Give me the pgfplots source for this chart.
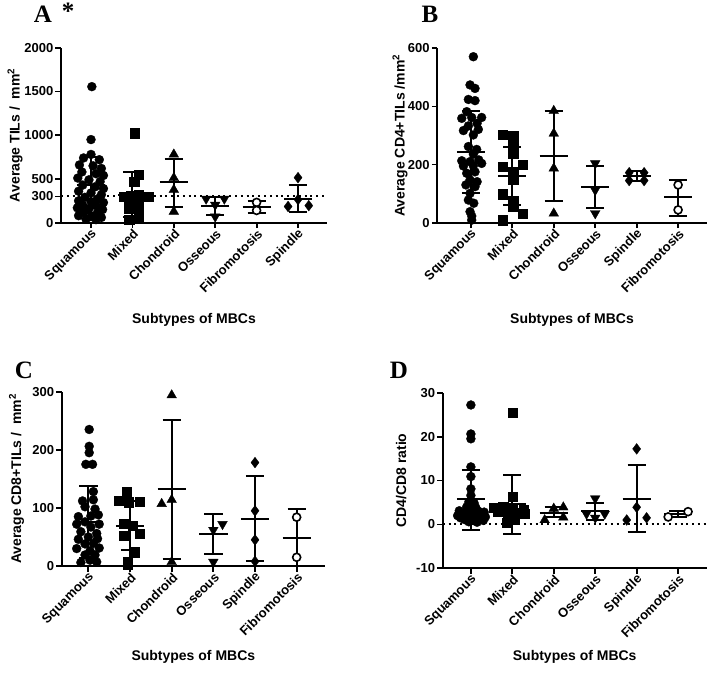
\documentclass[border=0pt]{standalone}
\usepackage{pgfplots}
\pgfplotsset{compat=1.18}
\usepackage{fontspec}
\setmainfont{Liberation Sans}
\newfontfamily\tnr{Liberation Serif}

\pgfplotsset{
  panel/.style={
    scale only axis, axis lines=left, axis line style={-, line width=1.8pt, black},
    every tick/.style={black, line width=1.8pt}, major tick length=5.5pt, tick align=outside,
    xtick={0,1,2,3,4,5}, clip=false, anchor=south west,
    unbounded coords=jump,
    xticklabel style={rotate=45, anchor=east, font=\bfseries\fontsize{13}{13}\selectfont, inner sep=1pt, yshift=-5pt, xshift=1pt},
    yticklabel style={font=\bfseries\fontsize{13}{13}\selectfont, inner sep=2pt},
    ylabel style={font=\bfseries\fontsize{14}{14}\selectfont, anchor=center},
    xlabel style={font=\bfseries\fontsize{14}{14}\selectfont, anchor=center},
    xlabel={Subtypes of MBCs},
  },
  gcirc/.style={only marks, mark=*, mark size=4.5pt, mark options={fill=black, draw=black, line width=0.3pt}},
  gsq/.style={only marks, mark=square*, mark size=4.6pt, mark options={fill=black, draw=black, line width=0.3pt}},
  gtri/.style={only marks, mark=triangle*, mark size=5.6pt, mark options={fill=black, draw=black, line width=0.3pt}},
  gitri/.style={only marks, mark=triangle*, mark size=5.6pt, mark options={fill=black, draw=black, line width=0.3pt, rotate=180}},
  gdia/.style={only marks, mark=diamond*, mark size=5.4pt, mark options={fill=black, draw=black, line width=0.3pt}},
  gocirc/.style={only marks, mark=*, mark size=4pt, mark options={fill=white, draw=black, line width=1.6pt}},
  bars/.style={black, line width=2pt, mark=none, line cap=butt},
  dotl/.style={black, line width=2pt, dash pattern=on 2pt off 3.8pt},
}

\begin{document}
\begin{tikzpicture}
\useasboundingbox (0,0) rectangle (709pt,675pt);

% ---------------- Panel A ----------------
\begin{axis}[panel, at={(61pt,452.3pt)}, width=266pt, height=175pt,
  xmin=-0.725, xmax=5.7, ymin=0, ymax=2000,
  ytick={0,300,500,1000,1500,2000}, yticklabels={0,300,500,1000,1500,2000},
  xticklabels={Squamous,Mixed,Chondroid,Osseous,Fibromotosis,Spindle},
  ylabel={Average TILs /\ \ mm\textsuperscript{2}},
  ylabel style={at={(axis description cs:-0.173,0.5)}},
  xlabel style={at={(axis description cs:0.5,-0.556)}}]
\addplot[dotl] coordinates {(-0.725,300) (5.7,300)};
\addplot[gcirc] coordinates {(0.02,1555) (0,950) (0,780) (-0.18,740) (0.2,720)
 (-0.28,660) (0.05,650) (0.25,620) (-0.22,580) (0.12,560) (0.3,540)
 (-0.32,510) (-0.05,490) (0.22,470) (-0.2,430) (0.1,410) (0.3,390)
 (-0.3,360) (0,340) (0.25,320) (-0.15,290) (0.15,270)
 (-0.3,250) (0,240) (0.3,230) (-0.2,200) (0.12,195)
 (-0.33,170) (-0.05,160) (0.28,150) (-0.18,120) (0.15,110)
 (-0.3,80) (0,70) (0.25,60) (-0.12,40) (0.12,35)};
\addplot[gsq] coordinates {(1.06,1023) (1.16,550) (1.04,473) (0.8,300) (0.96,305)
 (1.16,319) (1.4,300) (0.92,223) (1.16,242) (0.92,165) (1.16,165) (0.92,31) (1.16,50)};
\addplot[gtri] coordinates {(2,781) (2,512) (2,377) (2,127)};
\addplot[gitri] coordinates {(2.78,273) (3.22,273) (3,204) (3,69)};
\addplot[gocirc] coordinates {(4,232) (4,140)};
\addplot[gdia] coordinates {(5,515) (4.76,185) (5.26,195) (5,265)};
% mean lines and SD bars
\addplot[bars] coordinates {
 (-0.34,431) (0.34,431) (nan,nan) (0,111) (0,756) (nan,nan) (-0.22,111) (0.22,111) (nan,nan) (-0.22,756) (0.22,756) (nan,nan)
 (0.66,319) (1.34,319) (nan,nan) (1,63) (1,577) (nan,nan) (0.78,63) (1.22,63) (nan,nan) (0.78,577) (1.22,577) (nan,nan)
 (1.66,461) (2.34,461) (nan,nan) (2,185) (2,731) (nan,nan) (1.78,185) (2.22,185) (nan,nan) (1.78,731) (2.22,731) (nan,nan)
 (2.66,196) (3.34,196) (nan,nan) (3,88) (3,292) (nan,nan) (2.78,88) (3.22,88) (nan,nan) (2.78,292) (3.22,292) (nan,nan)
 (3.66,181) (4.34,181) (nan,nan) (4,108) (4,250) (nan,nan) (3.78,108) (4.22,108) (nan,nan) (3.78,250) (4.22,250) (nan,nan)
 (4.66,273) (5.34,273) (nan,nan) (5,119) (5,435) (nan,nan) (4.78,119) (5.22,119) (nan,nan) (4.78,435) (5.22,435)
};
\end{axis}

% ---------------- Panel B ----------------
\begin{axis}[panel, at={(437.3pt,452.3pt)}, width=269.4pt, height=174.4pt,
  xmin=-0.81, xmax=5.69, ymin=0, ymax=600,
  ytick={0,200,400,600}, yticklabels={0,200,400,600},
  xticklabels={Squamous,Mixed,Chondroid,Osseous,Spindle,Fibromotosis},
  ylabel={Average CD4+TILs /mm\textsuperscript{2}},
  ylabel style={at={(axis description cs:-0.138,0.5)}},
  xlabel style={at={(axis description cs:0.5,-0.558)}}]
\addplot[gcirc] coordinates {(0.06,571) (-0.02,474) (0.1,462) (-0.06,424) (0.1,420)
 (-0.1,382) (-0.22,359) (0.02,362) (0.26,362) (-0.06,333) (0.15,342) (-0.18,317)
 (0.18,321) (0.06,302) (-0.06,262) (0.14,252) (0.06,236) (-0.22,213) (-0.02,210)
 (0.19,216) (-0.18,195) (0.06,196) (0.26,204) (-0.1,170) (0.1,175) (-0.02,147)
 (0.15,141) (-0.12,130) (0.1,124) (-0.02,101) (-0.06,78) (0.07,67) (-0.02,38)
 (0.02,23) (0.02,9)};
\addplot[gsq] coordinates {(0.76,304) (1.02,298) (1.02,262) (1.02,238) (1.24,200)
 (0.76,193) (1.02,175) (1.02,150) (0.76,98) (1.02,75) (1.02,55) (1.24,32) (0.76,9)};
\addplot[gtri] coordinates {(2,385) (2,307) (2,187) (2,32)};
\addplot[gitri] coordinates {(3,204) (3,112) (3,32)};
\addplot[gdia] coordinates {(3.82,172) (4.18,172) (3.82,145) (4.18,145)};
\addplot[gocirc] coordinates {(5,130) (5,44)};
\addplot[bars] coordinates {
 (-0.34,244) (0.34,244) (nan,nan) (0,103) (0,384) (nan,nan) (-0.22,103) (0.22,103) (nan,nan) (-0.22,384) (0.22,384) (nan,nan)
 (0.66,161) (1.34,161) (nan,nan) (1,61) (1,259) (nan,nan) (0.78,61) (1.22,61) (nan,nan) (0.78,259) (1.22,259) (nan,nan)
 (1.66,231) (2.34,231) (nan,nan) (2,75) (2,385) (nan,nan) (1.78,75) (2.22,75) (nan,nan) (1.78,385) (2.22,385) (nan,nan)
 (2.66,122) (3.34,122) (nan,nan) (3,52) (3,196) (nan,nan) (2.78,52) (3.22,52) (nan,nan) (2.78,196) (3.22,196) (nan,nan)
 (3.66,160) (4.34,160) (nan,nan) (4,143) (4,178) (nan,nan) (3.78,143) (4.22,143) (nan,nan) (3.78,178) (4.22,178) (nan,nan)
 (4.66,87) (5.34,87) (nan,nan) (5,24) (5,147) (nan,nan) (4.78,24) (5.22,24) (nan,nan) (4.78,147) (5.22,147)
};
\end{axis}

% ---------------- Panel C ----------------
\begin{axis}[panel, at={(61.7pt,109pt)}, width=263.3pt, height=174.3pt,
  xmin=-0.64, xmax=5.68, ymin=0, ymax=300,
  ytick={0,100,200,300}, yticklabels={0,100,200,300},
  xticklabels={Squamous,Mixed,Chondroid,Osseous,Spindle,Fibromotosis},
  ylabel={Average CD8+TILs /\ \ mm\textsuperscript{2}},
  ylabel style={at={(axis description cs:-0.171,0.5)}},
  xlabel style={at={(axis description cs:0.5,-0.522)}}]
\addplot[gcirc] coordinates {(0.02,235) (0.02,206) (0.02,195) (-0.06,175) (0.1,175)
 (0.12,128) (-0.14,112) (0.12,114) (-0.08,102) (0.16,98) (-0.24,85) (0.06,86)
 (0.24,88) (-0.08,76) (-0.28,72) (0.26,72) (0.06,67) (-0.18,59) (0.2,56) (0,50)
 (-0.24,46) (0.22,47) (-0.08,38) (0.12,39) (-0.28,30) (0.26,31) (0.04,26)
 (-0.08,19) (0.16,19) (0.04,10) (-0.18,6) (0.2,7)};
\addplot[gsq] coordinates {(0.92,127) (0.74,112) (0.96,110) (1.24,111) (0.86,73)
 (1.06,70) (0.86,52) (1.24,55) (1.1,24) (0.94,8) (0.94,2)};
\addplot[gtri] coordinates {(2,294) (1.76,107) (2,114) (2,7)};
\addplot[gitri] coordinates {(3,62) (3.22,72) (3,7)};
\addplot[gdia] coordinates {(4,178) (4,95) (4,45) (4,8)};
\addplot[gocirc] coordinates {(5,84) (5,15)};
\addplot[bars] coordinates {
 (-0.34,76) (0.34,76) (nan,nan) (0,14) (0,138) (nan,nan) (-0.22,14) (0.22,14) (nan,nan) (-0.22,138) (0.22,138) (nan,nan)
 (0.66,69) (1.34,69) (nan,nan) (1,27) (1,112) (nan,nan) (0.78,27) (1.22,27) (nan,nan) (0.78,112) (1.22,112) (nan,nan)
 (1.66,132) (2.34,132) (nan,nan) (2,12) (2,251) (nan,nan) (1.78,12) (2.22,12) (nan,nan) (1.78,251) (2.22,251) (nan,nan)
 (2.66,55) (3.34,55) (nan,nan) (3,21) (3,89) (nan,nan) (2.78,21) (3.22,21) (nan,nan) (2.78,89) (3.22,89) (nan,nan)
 (3.66,81) (4.34,81) (nan,nan) (4,8) (4,155) (nan,nan) (3.78,8) (4.22,8) (nan,nan) (3.78,155) (4.22,155) (nan,nan)
 (4.66,49) (5.34,49) (nan,nan) (5,0.5) (5,98) (nan,nan) (4.78,0.5) (5.22,0.5) (nan,nan) (4.78,98) (5.22,98)
};
\end{axis}

% ---------------- Panel D ----------------
\begin{axis}[panel, at={(442.7pt,106.7pt)}, width=264pt, height=175.6pt,
  xmin=-0.68, xmax=5.69, ymin=-10, ymax=30,
  ytick={-10,0,10,20,30}, yticklabels={-10,0,10,20,30},
  xticklabels={Squamous,Mixed,Chondroid,Osseous,Spindle,Fibromotosis},
  ylabel={CD4/CD8 ratio},
  ylabel style={at={(axis description cs:-0.157,0.5)}},
  xlabel style={at={(axis description cs:0.5,-0.505)}}]
\addplot[dotl] coordinates {(-0.68,0) (5.69,0)};
\addplot[gcirc] coordinates {(0,27.2) (0,20.6) (0,19.5) (0,13.1) (0,10.9) (0,8.1)
 (0,6.6) (-0.05,5.1) (0.08,4.8) (-0.1,4.0) (0.12,3.8) (-0.28,3.1) (-0.08,3.2)
 (0.18,3.0) (0.32,2.8) (-0.2,2.5) (0.05,2.4) (0.25,2.2) (-0.32,2.0) (-0.12,1.9)
 (0.12,1.8) (0.35,1.7) (-0.25,1.5) (0,1.4) (0.22,1.3) (-0.15,1.1) (0.08,1.0)
 (0.3,0.9) (-0.05,0.6) (0.15,0.5)};
\addplot[gsq] coordinates {(1,25.5) (1,6.3) (0.55,3.9) (0.78,4.0) (1.27,3.4)
 (0.66,2.9) (1.1,2.7) (0.9,1.7) (1.3,2.5) (0.86,0.4) (1.06,1.0) (1.0,3.8)};
\addplot[gtri] coordinates {(1.78,1.0) (2,3.6) (2.23,3.9) (2.23,1.6)};
\addplot[gitri] coordinates {(2.79,2.4) (3,5.9) (3.23,2.4) (3,1.5)};
\addplot[gdia] coordinates {(4,17.2) (4,3.9) (3.76,1.0) (4.24,1.5)};
\addplot[gocirc] coordinates {(4.76,1.7) (5.24,2.9)};
\addplot[bars] coordinates {
 (-0.34,5.7) (0.34,5.7) (nan,nan) (0,-1.3) (0,12.4) (nan,nan) (-0.22,-1.3) (0.22,-1.3) (nan,nan) (-0.22,12.4) (0.22,12.4) (nan,nan)
 (0.66,4.6) (1.34,4.6) (nan,nan) (1,-2.2) (1,11.3) (nan,nan) (0.78,-2.2) (1.22,-2.2) (nan,nan) (0.78,11.3) (1.22,11.3) (nan,nan)
 (1.66,2.7) (2.34,2.7) (nan,nan) (2,1.6) (2,4.0) (nan,nan) (1.78,1.6) (2.22,1.6) (nan,nan) (1.78,4.0) (2.22,4.0) (nan,nan)
 (2.66,3.0) (3.34,3.0) (nan,nan) (3,1.1) (3,4.9) (nan,nan) (2.78,1.1) (3.22,1.1) (nan,nan) (2.78,4.9) (3.22,4.9) (nan,nan)
 (3.66,5.9) (4.34,5.9) (nan,nan) (4,-1.8) (4,13.5) (nan,nan) (3.78,-1.8) (4.22,-1.8) (nan,nan) (3.78,13.5) (4.22,13.5) (nan,nan)
 (4.66,2.3) (5.34,2.3) (nan,nan) (5,1.6) (5,3.1) (nan,nan) (4.78,1.6) (5.22,1.6) (nan,nan) (4.78,3.1) (5.22,3.1)
};
\end{axis}

% panel letters
\node[font=\tnr\bfseries\fontsize{25}{25}\selectfont] at (43pt,661pt) {A};
\node[font=\tnr\bfseries\fontsize{25}{25}\selectfont] at (68pt,664pt) {*};
\node[font=\tnr\bfseries\fontsize{25}{25}\selectfont] at (430pt,661pt) {B};
\node[font=\tnr\bfseries\fontsize{25}{25}\selectfont] at (24pt,305pt) {C};
\node[font=\tnr\bfseries\fontsize{25}{25}\selectfont] at (399pt,305pt) {D};
\end{tikzpicture}
\end{document}
